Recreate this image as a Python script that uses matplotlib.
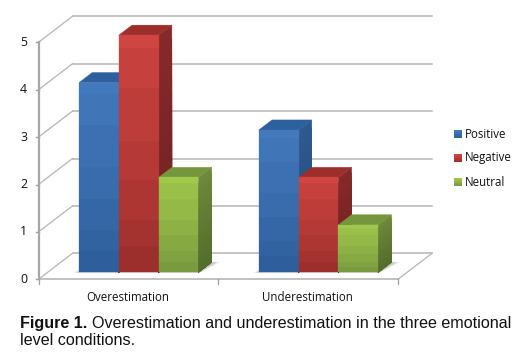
import numpy as np
import matplotlib
matplotlib.use("Agg")
import matplotlib.pyplot as plt
from matplotlib.colors import to_rgb
from matplotlib.patches import Polygon

categories = ["Overestimation", "Underestimation"]
series = ["Positive", "Negative", "Neutral"]
positive = [4, 3]
negative = [5, 2]
neutral = [2, 1]
y_ticks = [0, 1, 2, 3, 4, 5]
caption_bold = "Figure 1."
caption_1 = "Overestimation and underestimation in the three emotional"
caption_2 = "level conditions."

W, H = 532, 353
UX, UY = 179.75, 47.4      # pixels per category / per value
X0, Y0 = 38.5, 279.3       # pixel of origin
DX, DY = 34 / UX, 26 / UY  # wall depth in data units
D_FRONT, D_BACK = 0.27, 0.66
BAR_W = 0.2215
GROUP_START = 0.174

fig = plt.figure(figsize=(W / 100, H / 100), dpi=100)
ax = fig.add_axes([0, 0, 1, 1])
ax.set_xlim(-X0 / UX, (W - X0) / UX)
ax.set_ylim((Y0 - H) / UY, Y0 / UY)
ax.axis("off")


def P(x, v, d=0.0):
    return (x + d * DX, v + d * DY)


grid_c = "#B4B4B4"
for v in y_ticks:
    a, b, c = P(0, v), P(0, v, 1), P(2, v, 1)
    ax.plot([a[0], b[0]], [a[1], b[1]], color=grid_c, lw=0.9, zorder=1)
    ax.plot([b[0], c[0]], [b[1], c[1]], color=grid_c, lw=1.1, zorder=1)
    ax.plot([a[0], a[0] - 3 / UX], [a[1], a[1]], color="#A0A0A0", lw=1, zorder=2)
    ax.text(-X0 / UX + 23.5 / UX, v, str(v), ha="center", va="center",
            fontsize=8.8, family="Open Sans", color="#111111")
ax.plot([0, 0], [0, y_ticks[-1]], color="#A6A6A6", lw=1.6, zorder=2)
ax.plot([0, 2], [0, 0], color="#B0B0B0", lw=1.1, zorder=2)
a, b = P(2, 0), P(2, 0, 1)
ax.plot([a[0], b[0]], [a[1], b[1]], color=grid_c, lw=0.9, zorder=1)
for x in range(3):
    ax.plot([x, x], [0, -5 / UY], color="#A0A0A0", lw=0.9, zorder=2)

front_cols = [("#4379BD", "#2E5E9B"), ("#CE4541", "#9C2E2B"), ("#A0C84C", "#7B9A3F")]
side_cols = [("#2F5A8F", "#234A78"), ("#87292A", "#6E2220"), ("#6F8A3A", "#536D2C")]
top_cols = ["#2E5F9E", "#9C2E2C", "#76963D"]
values = [positive, negative, neutral]


def mix(c1, c2, t):
    return tuple((1 - t) * p + t * q for p, q in zip(to_rgb(c1), to_rgb(c2)))


z = 5
# floor shadows below each group
for g in range(len(categories)):
    x0 = g + GROUP_START
    x1 = x0 + 3 * BAR_W
    for grow, al in zip([0.03, 0.018, 0.008], [0.10, 0.16, 0.22]):
        pts = [P(x0 - grow, 0, D_FRONT - 0.02), P(x1 + 0.01, 0, D_FRONT - 0.02),
               P(x1 + grow + 0.02, 0, D_BACK), P(x0, 0, D_BACK)]
        ax.add_patch(Polygon(pts, fc="#808080", ec="none", alpha=al, zorder=3))

for g in range(len(categories)):
    for s in range(len(series)):
        v = values[s][g]
        x0 = g + GROUP_START + s * BAR_W
        x1 = x0 + BAR_W
        n = 18
        edges = np.linspace(0, v, n + 1)
        # side face: slices painted top-down, each reaching the base, so no seams show
        for i in range(n - 1, -1, -1):
            t = 1 - (i + 0.5) / n
            col = mix(*side_cols[s], t)
            ax.add_patch(Polygon([P(x1, 0, D_FRONT), P(x1, 0, D_BACK),
                                  P(x1, edges[i + 1], D_BACK), P(x1, edges[i + 1], D_FRONT)],
                                 fc=col, ec=col, lw=0.3, zorder=z))
            z += 0.001
        z += 1
        # top face
        ax.add_patch(Polygon([P(x0, v, D_FRONT), P(x1, v, D_FRONT),
                              P(x1, v, D_BACK), P(x0, v, D_BACK)],
                             fc=top_cols[s], ec=top_cols[s], lw=0.3, zorder=z))
        z += 1
        # front face
        for i in range(n):
            t = 1 - (i + 0.5) / n
            t = round(t * 6) / 6
            col = mix(*front_cols[s], t)
            ax.add_patch(Polygon([P(x0, edges[i], D_FRONT), P(x1, edges[i], D_FRONT),
                                  P(x1, edges[i + 1], D_FRONT), P(x0, edges[i + 1], D_FRONT)],
                                 fc=col, ec=col, lw=0.2, zorder=z))
        z += 1

# category labels
for g, name in enumerate(categories):
    ax.text(g + 0.5 - 0.005, -18.5 / UY, name, ha="center", va="center",
            fontsize=8.3, family="Open Sans", color="#111111")

# legend (pixel placed in figure fraction)
leg_y = [134, 158, 182]
for name, py, (c1, c2) in zip(series, leg_y, front_cols):
    for k in range(8):
        fig.patches.append(plt.Rectangle((454 / W, 1 - (py - 4 + k + 1) / H), 8 / W, 1 / H,
                                         transform=fig.transFigure, fc=mix(c1, c2, k / 7), ec="none"))
    fig.text(465 / W, 1 - py / H, name, ha="left", va="center", fontsize=8.3,
             family="Open Sans", color="#111111")

# caption
CAP = 11.6
t1 = fig.text(20 / W, 1 - 328 / H, caption_bold, ha="left", va="baseline", fontsize=CAP,
              family="Liberation Sans", weight="bold", color="#111111")
fig.canvas.draw()
end = t1.get_window_extent(fig.canvas.get_renderer()).x1
fig.text((end + 4.5) / W, 1 - 328 / H, caption_1, ha="left", va="baseline", fontsize=CAP,
         family="Liberation Sans", color="#111111")
fig.text(20 / W, 1 - 345 / H, caption_2, ha="left", va="baseline", fontsize=CAP,
         family="Liberation Sans", color="#111111")

fig.savefig("out.png", dpi=100)
